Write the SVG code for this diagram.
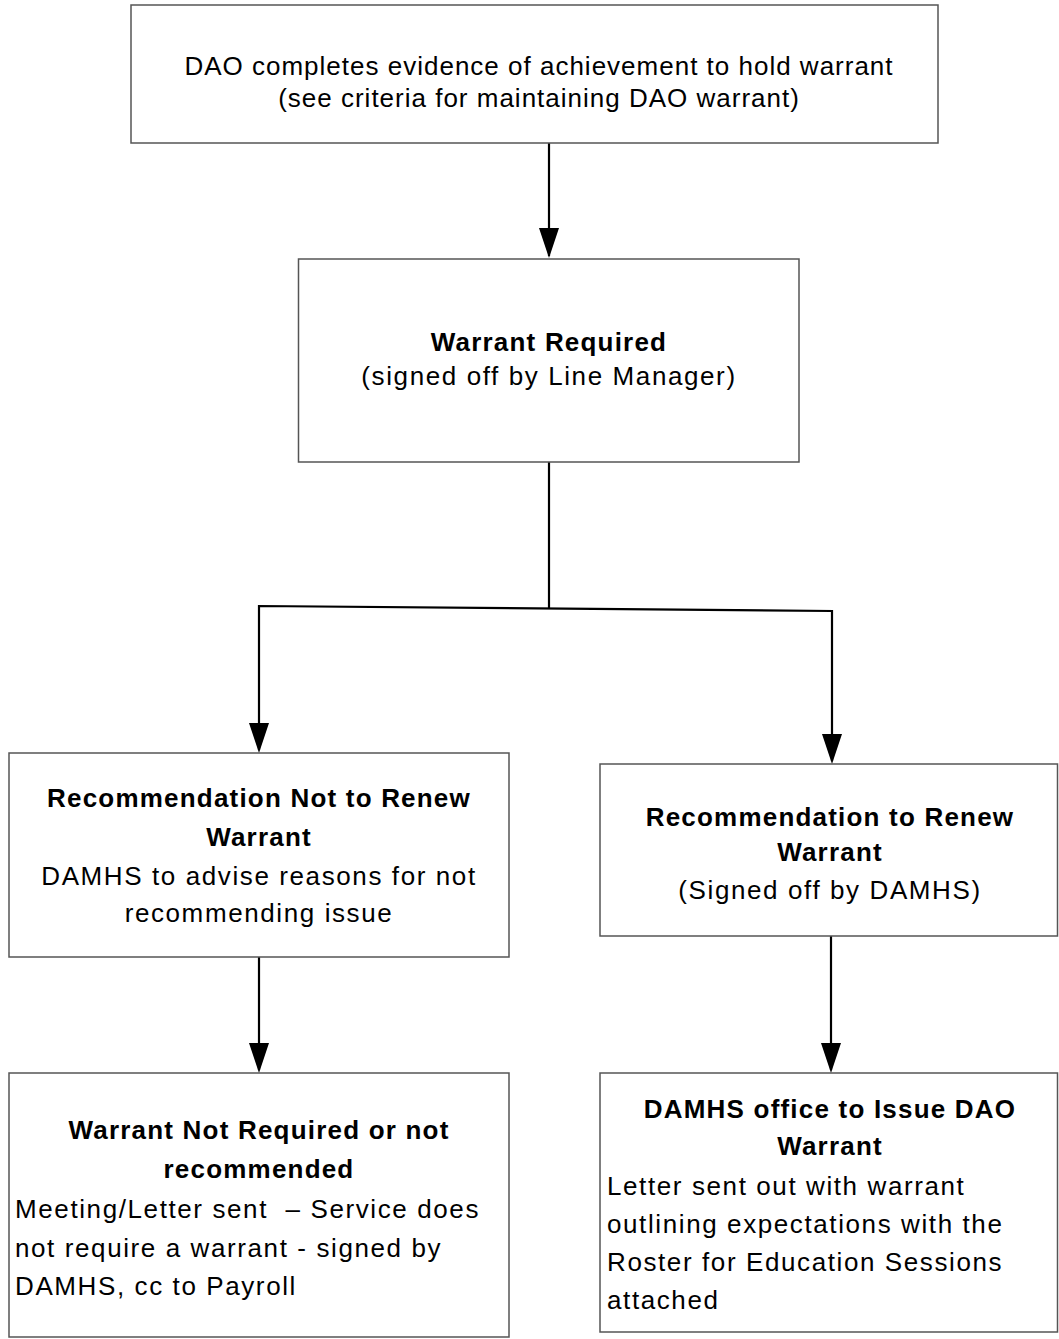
<svg xmlns="http://www.w3.org/2000/svg" width="1059" height="1339" viewBox="0 0 1059 1339">
<defs>
<style>
.box{fill:#fff;stroke:#555;stroke-width:1.5}
.t{font-family:"Liberation Sans",Arial,sans-serif;font-size:26px;letter-spacing:1.6px;fill:#000}
.c{text-anchor:middle}
.b{font-weight:bold;letter-spacing:1.2px}
.w1{letter-spacing:1px}
.conn{fill:none;stroke:#000;stroke-width:2.2}
.head{fill:#000}
</style>
</defs>
<rect width="1059" height="1339" fill="#fff"/>
<g id="connectors">
<path class="conn" d="M549,143 V256"/>
<path class="head" d="M549,258 L539,228 L559,228 Z"/>
<path class="conn" d="M549,462 V608.5"/>
<path class="conn" d="M259,750 V606 L832,611 V761"/>
<path class="head" d="M259,753 L249,723 L269,723 Z"/>
<path class="head" d="M832,764 L822,734 L842,734 Z"/>
<path class="conn" d="M259,957 V1070"/>
<path class="head" d="M259,1073 L249,1043 L269,1043 Z"/>
<path class="conn" d="M831,936 V1070"/>
<path class="head" d="M831,1073 L821,1043 L841,1043 Z"/>
</g>
<g id="n1">
<rect class="box" x="131" y="5" width="807" height="138"/>
<text class="t c w1" x="539" y="75">DAO completes evidence of achievement to hold warrant</text>
<text class="t c w1" x="539" y="107">(see criteria for maintaining DAO warrant)</text>
</g>
<g id="n2">
<rect class="box" x="298.5" y="259" width="500.5" height="203"/>
<text class="t c b" x="549" y="351">Warrant Required</text>
<text class="t c" x="549" y="385">(signed off by Line Manager)</text>
</g>
<g id="n3">
<rect class="box" x="9" y="753" width="500" height="204"/>
<text class="t c b" x="259" y="807">Recommendation Not to Renew</text>
<text class="t c b" x="259" y="846">Warrant</text>
<text class="t c" x="259" y="885">DAMHS to advise reasons for not</text>
<text class="t c" x="259" y="922">recommending issue</text>
</g>
<g id="n4">
<rect class="box" x="600" y="764" width="457.5" height="172"/>
<text class="t c b" x="830" y="826">Recommendation to Renew</text>
<text class="t c b" x="830" y="861">Warrant</text>
<text class="t c" x="830" y="899">(Signed off by DAMHS)</text>
</g>
<g id="n5">
<rect class="box" x="9" y="1073" width="500" height="264"/>
<text class="t c b" x="259" y="1139">Warrant Not Required or not</text>
<text class="t c b" x="259" y="1178">recommended</text>
<text class="t" x="15" y="1218">Meeting/Letter sent&#160; – Service does</text>
<text class="t" x="15" y="1257">not require a warrant - signed by</text>
<text class="t" x="15" y="1295">DAMHS, cc to Payroll</text>
</g>
<g id="n6">
<rect class="box" x="600" y="1073" width="457.5" height="259"/>
<text class="t c b" x="830" y="1118">DAMHS office to Issue DAO</text>
<text class="t c b" x="830" y="1155">Warrant</text>
<text class="t" x="607" y="1195">Letter sent out with warrant</text>
<text class="t" x="607" y="1233">outlining expectations with the</text>
<text class="t" x="607" y="1271">Roster for Education Sessions</text>
<text class="t" x="607" y="1309">attached</text>
</g>
</svg>
